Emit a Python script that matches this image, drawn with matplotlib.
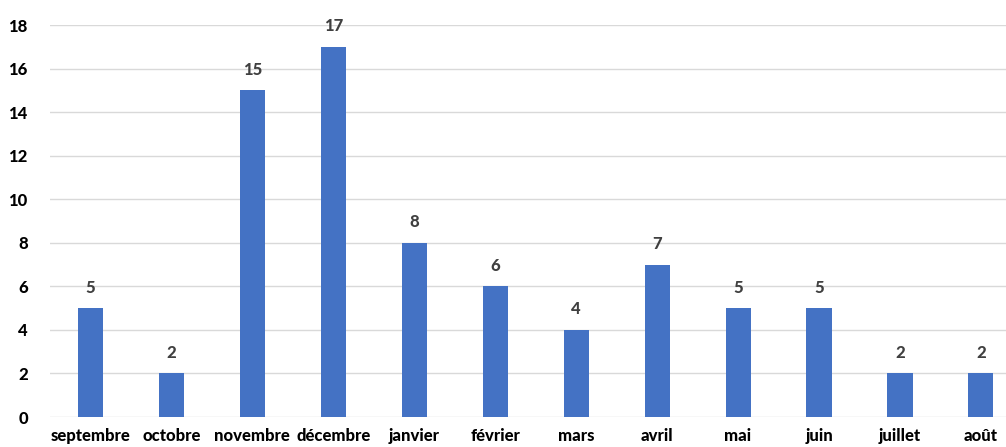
import matplotlib
matplotlib.use("Agg")
import matplotlib.pyplot as plt

months = ["septembre", "octobre", "novembre", "décembre", "janvier", "février",
          "mars", "avril", "mai", "juin", "juillet", "août"]
counts = [5, 2, 15, 17, 8, 6, 4, 7, 5, 5, 2, 2]
yticks = [0, 2, 4, 6, 8, 10, 12, 14, 16, 18]

plt.rcParams["font.family"] = ["Lato", "DejaVu Sans"]
WEIGHT = "black"

fig = plt.figure(figsize=(10.06, 4.47), dpi=100)
ax = fig.add_axes([50 / 1006, 30 / 447, 956 / 1006, 392 / 447])

x = list(range(len(months)))
ax.bar(x, counts, width=0.31, color="#4472C4", zorder=3)

for xi, v in zip(x, counts):
    ax.annotate(str(v), (xi, v), xytext=(0, 9), textcoords="offset points",
                ha="center", va="bottom", fontsize=12, fontweight=WEIGHT,
                color="#404040", annotation_clip=False)

ax.set_xlim(-0.5, 11.31)
ax.set_ylim(0, 18)
ax.set_yticks(yticks)
ax.set_xticks(x)
ax.set_xticklabels(months)
ax.grid(axis="y", color="#D9D9D9", linewidth=1, zorder=0)
for s in ax.spines.values():
    s.set_visible(False)
ax.tick_params(axis="both", length=0, labelsize=12, labelcolor="black")
ax.tick_params(axis="y", pad=16)
ax.tick_params(axis="x", pad=8)
for lbl in ax.get_xticklabels() + ax.get_yticklabels():
    lbl.set_fontweight(WEIGHT)

fig.savefig("out.png", dpi=100)
